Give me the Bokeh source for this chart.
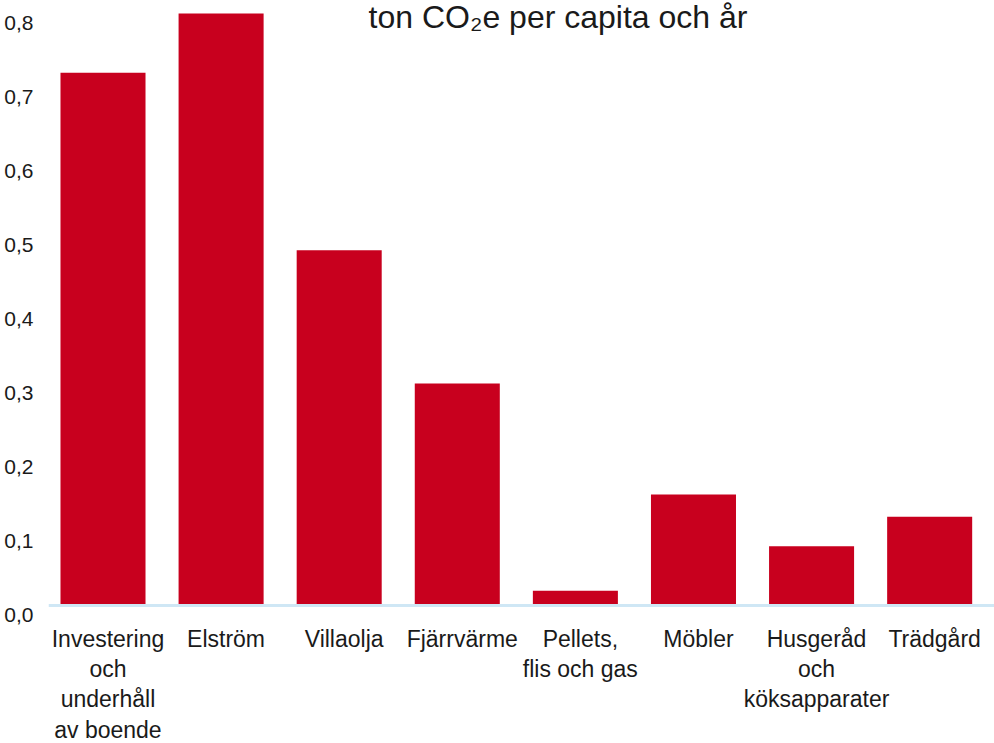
from bokeh.plotting import figure
from bokeh.models import FixedTicker, Label, ColumnDataSource, Range1d, LinearAxis, Span
from bokeh.embed import file_html
from bokeh.resources import INLINE

categories = ["Investering\noch\nunderhåll\nav boende", "Elström", "Villaolja", "Fjärrvärme",
              "Pellets,\nflis och gas", "Möbler", "Husgeråd\noch\nköksapparater", "Trädgård"]
values = [0.72, 0.80, 0.48, 0.30, 0.02, 0.15, 0.08, 0.12]
y_ticks = [0.0, 0.1, 0.2, 0.3, 0.4, 0.5, 0.6, 0.7, 0.8]
y_tick_labels = ["0,0", "0,1", "0,2", "0,3", "0,4", "0,5", "0,6", "0,7", "0,8"]
title_text = "ton CO\u2082e per capita och år"

FONT = "Liberation Sans"
TEXT = "#1a1a1a"
RED = "#c8001e"
BLUE = "#cfe7f5"

X0, X1 = -0.4615, 7.549
Y0, Y1 = -0.02703, 0.8176
XSHIFT = 0.042   # label offset (to the right) in category units
YSHIFT = 0.0128  # label offset (downwards) in value units

xs = list(range(len(categories)))
src = ColumnDataSource(dict(x=xs, top=values, cat=categories))

p = figure(frame_width=946, frame_height=625, output_backend="svg", toolbar_location=None,
           x_range=Range1d(X0, X1), y_range=Range1d(Y0, Y1),
           x_axis_location=None, y_axis_location=None,
           min_border_left=48, min_border_right=0, min_border_top=0, min_border_bottom=118)
p.outline_line_color = None
p.xgrid.grid_line_color = None
p.ygrid.grid_line_color = None
p.background_fill_color = "white"
p.border_fill_color = "white"
p.extra_x_ranges = {"lab": Range1d(X0 - XSHIFT, X1 - XSHIFT)}
p.extra_y_ranges = {"lab": Range1d(Y0 + YSHIFT, Y1 + YSHIFT)}

p.vbar(x="x", top="top", width=0.72, source=src, fill_color=RED, line_color=None)
p.add_layout(Span(location=0, dimension="width", line_color=BLUE, line_width=3))

# x axis
xa = LinearAxis(x_range_name="lab")
xa.ticker = FixedTicker(ticks=xs)
xa.major_label_overrides = {i: c for i, c in zip(xs, categories)}
xa.axis_line_color = None
xa.major_tick_line_color = None
xa.minor_tick_line_color = None
xa.major_tick_out = 0
xa.minor_tick_out = 0
xa.major_label_text_font = FONT
xa.major_label_text_font_size = "23px"
xa.major_label_text_color = TEXT
xa.major_label_text_line_height = 1.17
xa.major_label_standoff = 0
p.add_layout(xa, "below")

# y axis
ya = LinearAxis(y_range_name="lab")
ya.ticker = FixedTicker(ticks=y_ticks)
ya.major_label_overrides = {t: l for t, l in zip(y_ticks, y_tick_labels)}
ya.axis_line_color = None
ya.major_tick_line_color = None
ya.minor_tick_line_color = None
ya.major_tick_out = 0
ya.minor_tick_out = 0
ya.major_label_text_font = FONT
ya.major_label_text_font_size = "21px"
ya.major_label_text_color = TEXT
ya.major_label_standoff = 15
p.add_layout(ya, "left")

title = Label(x=3.853, y=Y1, y_offset=2, text=title_text, text_align="center", text_baseline="top",
              text_font=FONT, text_font_size="32px", text_color=TEXT)
p.add_layout(title)

open("out.html", "w").write(file_html(p, INLINE))
